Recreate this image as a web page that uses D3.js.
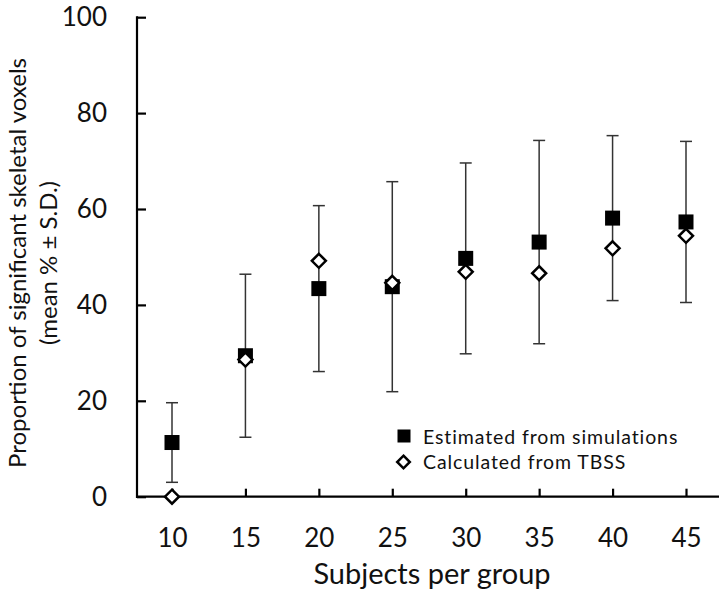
<!DOCTYPE html>
<html>
<head>
<meta charset="utf-8">
<script src="https://cdn.jsdelivr.net/npm/d3@7"></script>
<style>
  html, body { margin: 0; padding: 0; background: #fff; }
  svg { display: block; }
  text { font-family: Lato, "Open Sans", sans-serif; fill: #111; }
</style>
</head>
<body>
<svg id="chart" width="727" height="597"></svg>
<script>
// ---- Data ----
const subjects = ["10", "15", "20", "25", "30", "35", "40", "45"];
const estimated = [11.3, 29.4, 43.4, 43.8, 49.7, 53.1, 58.1, 57.3];
const estimatedSD = [8.3, 17.0, 17.3, 21.9, 19.9, 21.2, 17.2, 16.8];
const tbss = [0, 28.6, 49.2, 44.6, 46.9, 46.6, 51.8, 54.4];
const yTicks = [0, 20, 40, 60, 80, 100];
const seriesNames = ["Estimated from simulations", "Calculated from TBSS"];

// ---- Layout ----
const svg = d3.select("#chart");
const axisLeftX = 137, axisBottomY = 497, axisRightX = 719;

const x = d3.scalePoint().domain(subjects).range([172, 686]);
const y = d3.scaleLinear().domain([0, 100]).range([496.7, 17.2]);

// Axis lines
svg.append("line").attr("x1", axisLeftX).attr("x2", axisLeftX)
  .attr("y1", y(100) - 1).attr("y2", axisBottomY + 1)
  .attr("stroke", "#000").attr("stroke-width", 2.2);
svg.append("line").attr("x1", axisLeftX - 1).attr("x2", axisRightX)
  .attr("y1", y(0)).attr("y2", y(0))
  .attr("stroke", "#000").attr("stroke-width", 2.2);

// Y axis
const yAxis = svg.append("g").attr("transform", `translate(${axisLeftX},0)`)
  .call(d3.axisLeft(y).tickValues(yTicks).tickSize(-9).tickPadding(30));
yAxis.select(".domain").remove();
yAxis.selectAll(".tick line").attr("stroke", "#000").attr("stroke-width", 2.2);
yAxis.selectAll(".tick text").attr("font-size", 26).attr("font-family", "Lato").attr("fill", "#111");

// X axis
const xAxis = svg.append("g").attr("transform", `translate(0,${y(0)})`)
  .call(d3.axisBottom(x).tickSize(-8).tickPadding(0));
xAxis.select(".domain").remove();
xAxis.selectAll(".tick line").attr("stroke", "#000").attr("stroke-width", 2.2);
xAxis.selectAll(".tick text").attr("font-size", 26).attr("font-family", "Lato")
  .attr("fill", "#111").attr("y", 50).attr("dy", 0);

// Axis titles
svg.append("text").attr("text-anchor", "middle").attr("font-size", 29)
  .attr("x", 432).attr("y", 584).text("Subjects per group");

const yl = svg.append("g").attr("transform", "translate(0,263) rotate(-90)");
yl.append("text").attr("text-anchor", "middle").attr("font-size", 24)
  .attr("x", 0).attr("y", 26).text("Proportion of significant skeletal voxels");
yl.append("text").attr("text-anchor", "middle").attr("font-size", 24)
  .attr("x", 0).attr("y", 57).text("(mean % ± S.D.)");

// Error bars (estimated ± SD)
const capW = 12;
const eb = svg.append("g").attr("stroke", "#333").attr("stroke-width", 1.5);
subjects.forEach((s, i) => {
  const cx = x(s);
  const hi = y(estimated[i] + estimatedSD[i]);
  const lo = y(estimated[i] - estimatedSD[i]);
  eb.append("line").attr("x1", cx).attr("x2", cx).attr("y1", hi).attr("y2", lo);
  eb.append("line").attr("x1", cx - capW / 2).attr("x2", cx + capW / 2).attr("y1", hi).attr("y2", hi);
  eb.append("line").attr("x1", cx - capW / 2).attr("x2", cx + capW / 2).attr("y1", lo).attr("y2", lo);
});

// Squares (estimated)
const sq = 15;
svg.append("g").selectAll("rect").data(estimated).join("rect")
  .attr("x", (d, i) => x(subjects[i]) - sq / 2)
  .attr("y", d => y(d) - sq / 2)
  .attr("width", sq).attr("height", sq).attr("fill", "#000");

// Diamonds (TBSS)
const dh = 7;
const diamond = (cx, cy, h) => `M${cx},${cy - h}L${cx + h},${cy}L${cx},${cy + h}L${cx - h},${cy}Z`;
svg.append("g").selectAll("path").data(tbss).join("path")
  .attr("d", (d, i) => diamond(x(subjects[i]), y(d), dh))
  .attr("fill", "#fff").attr("stroke", "#000").attr("stroke-width", 2.5)
  .attr("stroke-linejoin", "miter");

// Legend
const lg = svg.append("g");
lg.append("rect").attr("x", 404 - 6.5).attr("y", 436 - 6.5).attr("width", 13).attr("height", 13).attr("fill", "#000");
lg.append("text").attr("x", 423).attr("y", 444).attr("font-size", 19.5)
  .attr("letter-spacing", 0.9).text(seriesNames[0]);
lg.append("path").attr("d", diamond(403.5, 462, 6.3))
  .attr("fill", "#fff").attr("stroke", "#000").attr("stroke-width", 2.5);
lg.append("text").attr("x", 423).attr("y", 468.5).attr("font-size", 19.5)
  .attr("letter-spacing", 0.9).text(seriesNames[1]);
</script>
</body>
</html>
